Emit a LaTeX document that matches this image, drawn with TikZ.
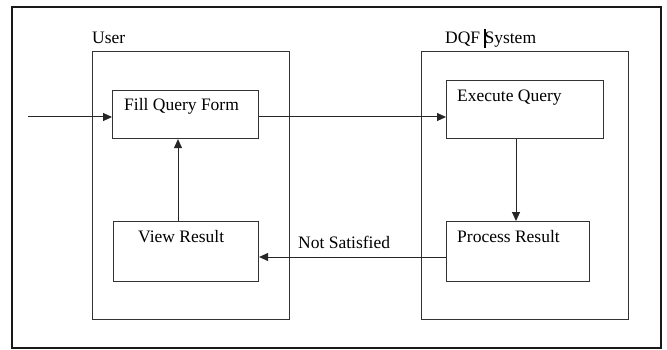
\documentclass[tikz,border=0pt]{standalone}
\usepackage{fontspec}
\setmainfont{Liberation Serif}
\usetikzlibrary{arrows.meta}
\begin{document}
\begin{tikzpicture}[x=1pt,y=-1pt,
  box/.style={draw=black!80,line width=1.1pt,inner sep=0pt,rectangle},
  lbl/.style={inner sep=0pt,anchor=base west,font=\fontsize{17.5}{20}\selectfont},
  conn/.style={draw=black!85,line width=1pt,-{Triangle[length=9pt,width=8pt]}}]
\useasboundingbox (0,0) rectangle (667,350);
\fill[white] (0,0) rectangle (667,350);
% outer frame
\draw[line width=2.6pt,black!90] (12,7) rectangle (661,348);
% containers
\node[box,minimum width=197pt,minimum height=268pt,anchor=north west] (user) at (92,51) {};
\node[box,minimum width=207pt,minimum height=268pt,anchor=north west] (dqf) at (421,51) {};
\node[lbl] (userlbl) at (92,44) {User};
\node[lbl] (dqflbl) at (445,44) {DQF System};
\draw[line width=1.3pt] (485,29) -- (485,48);
% inner boxes
\node[box,minimum width=146pt,minimum height=48pt,anchor=north west] (fill) at (112,90) {};
\node[box,minimum width=157pt,minimum height=58pt,anchor=north west] (exec) at (446,80) {};
\node[box,minimum width=145pt,minimum height=60pt,anchor=north west] (view) at (113,221) {};
\node[box,minimum width=143pt,minimum height=60pt,anchor=north west] (proc) at (446,221) {};
\node[lbl] (filllbl) at (124,111) {Fill Query Form};
\node[lbl] (execlbl) at (457,102) {Execute Query};
\node[lbl] (viewlbl) at (138,242) {View Result};
\node[lbl] (proclbl) at (457,242) {Process Result};
\node[lbl] (ns) at (298,248) {Not Satisfied};
% connectors
\coordinate (start) at (28,117);
\draw[conn] (start) -- (start -| fill.west);
\draw[conn] (fill.east |- 0,117) -- (exec.west |- 0,117);
\draw[conn] (exec.south -| 516,0) -- (proc.north -| 516,0);
\draw[conn] (proc.west |- 0,257) -- (view.east |- 0,257);
\draw[conn] (view.north -| 178,0) -- (fill.south -| 178,0);
\end{tikzpicture}
\end{document}
